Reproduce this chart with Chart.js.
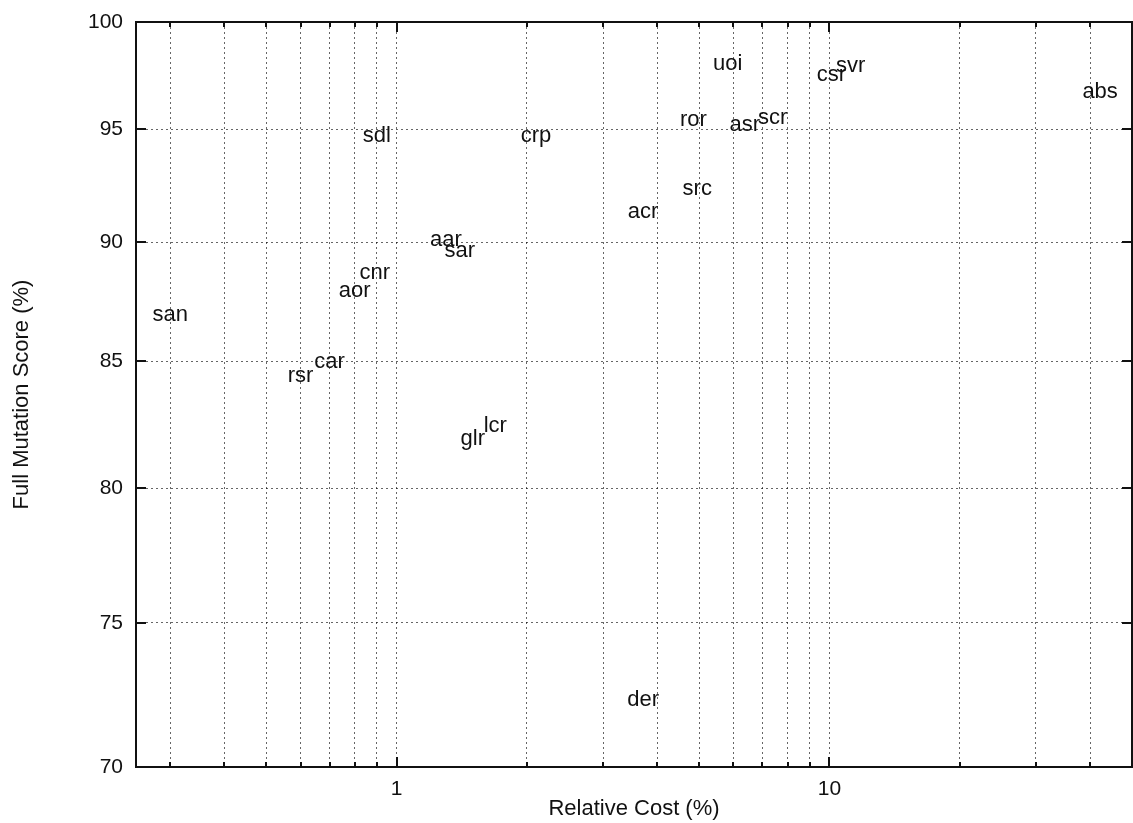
<!DOCTYPE html>
<html>
<head>
<meta charset="utf-8">
<script src="https://cdn.jsdelivr.net/npm/chart.js@4.4.1/dist/chart.umd.min.js"></script>
<style>
  html, body { margin: 0; padding: 0; background: #fff; }
  #wrap { width: 1133px; height: 823px; }
</style>
</head>
<body>
<div id="wrap"><canvas id="c" width="1133" height="823"></canvas></div>
<script>
// ---- data ----
const operators = ['san','rsr','car','aor','cnr','sdl','aar','sar','glr','lcr','crp','acr','src','der','ror','uoi','asr','scr','csr','svr','abs'];
const relativeCost = [0.30,0.60,0.70,0.80,0.89,0.90,1.30,1.40,1.50,1.69,2.10,3.71,4.95,3.71,4.85,5.82,6.37,7.39,10.1,11.2,42.2];
const mutationScore = [86.9,84.4,85.0,87.9,88.7,94.7,90.1,89.6,81.9,82.4,94.7,91.3,92.3,72.3,95.4,98.0,95.2,95.5,97.5,97.9,96.7];
const xTickValues = [0.3,0.4,0.5,0.6,0.7,0.8,0.9,1,2,3,4,5,6,7,8,9,10,20,30,40,50];
const xTickLabels = {1: '1', 10: '10'};
const yTickValues = [70,75,80,85,90,95,100];

const FONT = "'Liberation Sans', Arial, Helvetica, sans-serif";
const INK = '#111';

const points = relativeCost.map((x, i) => ({x: x, y: mutationScore[i]}));

const labelPlugin = {
  id: 'opLabels',
  afterDatasetsDraw(chart) {
    const ctx = chart.ctx;
    const xs = chart.scales.x, ys = chart.scales.y;
    ctx.save();
    ctx.font = '22px ' + FONT;
    ctx.fillStyle = INK;
    ctx.textAlign = 'center';
    ctx.textBaseline = 'middle';
    operators.forEach((name, i) => {
      const px = xs.getPixelForValue(relativeCost[i]);
      const py = ys.getPixelForValue(mutationScore[i]);
      ctx.fillText(name, px, py);
    });
    ctx.restore();
  }
};

const framePlugin = {
  id: 'frame',
  afterDraw(chart) {
    const ctx = chart.ctx;
    const a = chart.chartArea;
    const xs = chart.scales.x, ys = chart.scales.y;
    ctx.save();
    ctx.strokeStyle = INK;
    ctx.lineWidth = 2;
    ctx.strokeRect(a.left, a.top, a.right - a.left, a.bottom - a.top);
    ctx.beginPath();
    xs.ticks.forEach(t => {
      const px = Math.round(xs.getPixelForValue(t.value));
      const len = (t.value === 1 || t.value === 10) ? 10 : 5;
      ctx.moveTo(px, a.bottom); ctx.lineTo(px, a.bottom - len);
      ctx.moveTo(px, a.top); ctx.lineTo(px, a.top + len);
    });
    ys.ticks.forEach(t => {
      const py = Math.round(ys.getPixelForValue(t.value));
      ctx.moveTo(a.left, py); ctx.lineTo(a.left + 10, py);
      ctx.moveTo(a.right, py); ctx.lineTo(a.right - 10, py);
    });
    ctx.stroke();
    ctx.restore();
  }
};

new Chart(document.getElementById('c'), {
  type: 'scatter',
  data: {
    datasets: [{
      label: 'operators',
      data: points,
      pointRadius: 0,
      pointHoverRadius: 0,
      showLine: false
    }]
  },
  options: {
    responsive: false,
    animation: false,
    events: [],
    layout: { padding: { left: 0, right: 1, top: 22, bottom: 0 } },
    plugins: {
      legend: { display: false },
      tooltip: { enabled: false }
    },
    scales: {
      x: {
        type: 'logarithmic',
        min: 0.25,
        max: 50,
        afterBuildTicks: s => { s.ticks = xTickValues.map(v => ({value: v})); },
        afterFit: s => { s.height = 56; s.paddingLeft = 0; s.paddingRight = 0; },
        grid: { color: 'rgba(0,0,0,0.6)', lineWidth: 1, drawTicks: false },
        border: { display: false, dash: [2, 3] },
        ticks: {
          autoSkip: false,
          maxRotation: 0,
          padding: 10,
          color: INK,
          font: { family: FONT, size: 21 },
          callback: v => xTickLabels[v] || ''
        },
        title: {
          display: true,
          text: 'Relative Cost (%)',
          color: INK,
          font: { family: FONT, size: 22 },
          padding: { top: 0, bottom: 1 }
        }
      },
      y: {
        type: 'logarithmic',
        min: 70,
        max: 100,
        afterBuildTicks: s => { s.ticks = yTickValues.map(v => ({value: v})); },
        afterFit: s => { s.width = 136; s.paddingTop = 0; s.paddingBottom = 0; },
        grid: { color: 'rgba(0,0,0,0.6)', lineWidth: 1, drawTicks: false },
        border: { display: false, dash: [2, 3] },
        ticks: {
          autoSkip: false,
          padding: 13,
          color: INK,
          font: { family: FONT, size: 21 },
          callback: v => String(v)
        },
        title: {
          display: true,
          text: 'Full Mutation Score (%)',
          color: INK,
          font: { family: FONT, size: 22 },
          padding: { top: 9, bottom: 0 }
        }
      }
    }
  },
  plugins: [labelPlugin, framePlugin]
});
</script>
</body>
</html>
